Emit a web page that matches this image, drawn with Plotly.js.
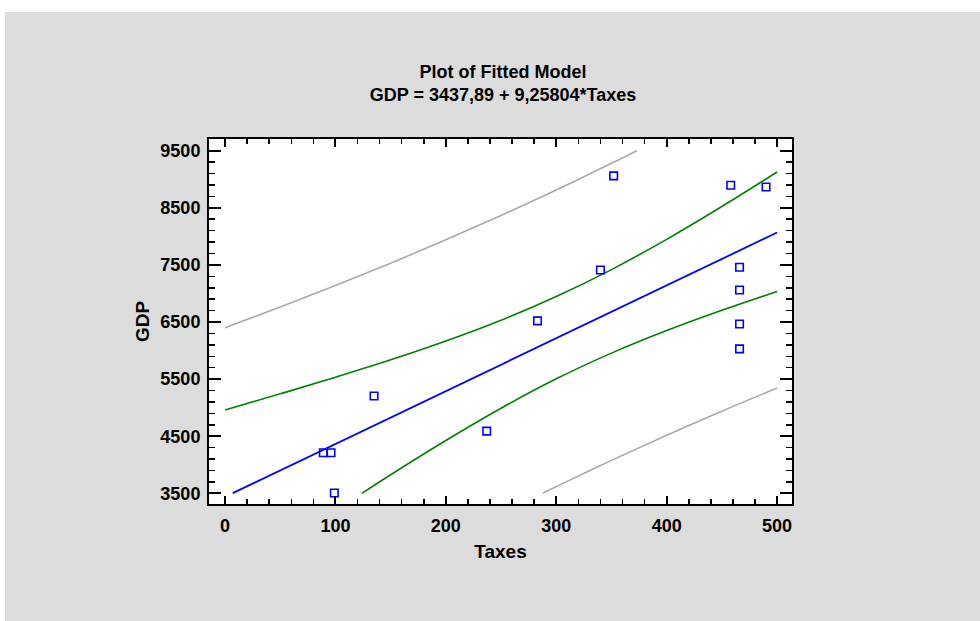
<!DOCTYPE html>
<html>
<head>
<meta charset="utf-8">
<script src="https://cdn.plot.ly/plotly-3.0.1.min.js"></script>
<style>
  html, body { margin: 0; padding: 0; background: #ffffff; width: 980px; height: 621px; overflow: hidden; }
  #chart { position: absolute; left: 5px; top: 12px; width: 975px; height: 609px; }
</style>
</head>
<body>
<div id="chart"></div>
<script>
// Observed data points
const taxes = [89, 96, 99, 135, 237, 283, 340, 352, 458, 466, 466, 466, 466, 490];
const gdp   = [4210, 4210, 3505, 5205, 4590, 6520, 7410, 9060, 8895, 7460, 7060, 6465, 6030, 8865];

// Fitted line
const fitX = [7, 50, 100, 150, 200, 250, 300, 350, 400, 450, 500];
const fitY = [3503, 3901, 4364, 4826, 5289, 5752, 6215, 6678, 7141, 7604, 8067];

// Inner (green) limits
const confUpX = [0, 50, 100, 150, 200, 250, 300, 350, 400, 450, 500];
const confUpY = [4960, 5242, 5533, 5838, 6168, 6532, 6946, 7418, 7948, 8522, 9127];
const confLoX = [124, 150, 200, 250, 300, 350, 400, 450, 500];
const confLoY = [3500, 3825, 4425, 4990, 5505, 5955, 6350, 6705, 7035];

// Outer (gray) limits
const predUpX = [0, 50, 100, 150, 200, 250, 300, 350, 373];
const predUpY = [6401, 6762, 7138, 7529, 7939, 8366, 8813, 9279, 9500];
const predLoX = [288, 300, 350, 400, 450, 500];
const predLoY = [3504, 3617, 4077, 4518, 4939, 5343];

const titleLine1 = "Plot of Fitted Model";
const titleLine2 = "GDP = 3437,89 + 9,25804*Taxes";
const xTitle = "Taxes";
const yTitle = "GDP";

const FONT = "Liberation Sans, Arial, Helvetica, sans-serif";

const traces = [
  { x: predUpX, y: predUpY, mode: "lines", line: { color: "#a9a9a9", width: 1.6, shape: "spline" }, hoverinfo: "skip" },
  { x: predLoX, y: predLoY, mode: "lines", line: { color: "#a9a9a9", width: 1.6, shape: "spline" }, hoverinfo: "skip" },
  { x: confUpX, y: confUpY, mode: "lines", line: { color: "#008000", width: 1.6, shape: "spline" }, hoverinfo: "skip" },
  { x: confLoX, y: confLoY, mode: "lines", line: { color: "#008000", width: 1.6, shape: "spline" }, hoverinfo: "skip" },
  { x: fitX, y: fitY, mode: "lines", line: { color: "#0000ff", width: 1.8 }, hoverinfo: "skip" },
  { x: taxes, y: gdp, mode: "markers", marker: { symbol: "square-open", size: 7.5, color: "#0000ff", line: { width: 1.6, color: "#0000ff" } } }
];

const layout = {
  width: 975, height: 609,
  paper_bgcolor: "#dcdcdc",
  plot_bgcolor: "#ffffff",
  showlegend: false,
  margin: { l: 204, r: 188, t: 127, b: 117 },
  font: { family: FONT, color: "#000000" },
  title: {
    text: "<b>" + titleLine1 + "</b><br><b>" + titleLine2 + "</b>",
    font: { family: FONT, size: 18, color: "#000000" },
    x: 0.5108, xref: "container", xanchor: "center",
    y: 1 - 66 / 609, yref: "container", yanchor: "middle"
  },
  xaxis: {
    range: [-14.5, 513.5],
    tick0: 0, dtick: 100,
    ticks: "inside", ticklen: 8, tickwidth: 2, tickcolor: "#000000",
    minor: { tick0: 0, dtick: 20, ticks: "inside", ticklen: 5, tickwidth: 1.5, tickcolor: "#000000" },
    showline: true, linewidth: 2, linecolor: "#000000", mirror: "allticks",
    showgrid: false, zeroline: false,
    ticklabelstandoff: 4,
    tickfont: { family: FONT, size: 18, color: "#000000", weight: "bold" },
    title: { text: "<b>" + xTitle + "</b>", font: { family: FONT, size: 19, color: "#000000" }, standoff: 10 },
    automargin: false
  },
  yaxis: {
    range: [3313, 9705],
    tick0: 3500, dtick: 1000,
    ticks: "inside", ticklen: 12, tickwidth: 2, tickcolor: "#000000",
    minor: { tick0: 3500, dtick: 200, ticks: "inside", ticklen: 6, tickwidth: 1.5, tickcolor: "#000000" },
    showline: true, linewidth: 2, linecolor: "#000000", mirror: "allticks",
    showgrid: false, zeroline: false,
    ticklabelstandoff: 3,
    tickfont: { family: FONT, size: 18, color: "#000000", weight: "bold" },
    title: { text: "<b>" + yTitle + "</b>", font: { family: FONT, size: 19, color: "#000000" }, standoff: 6 },
    automargin: false
  }
};

Plotly.newPlot("chart", traces, layout, { staticPlot: true, displayModeBar: false });
</script>
</body>
</html>
